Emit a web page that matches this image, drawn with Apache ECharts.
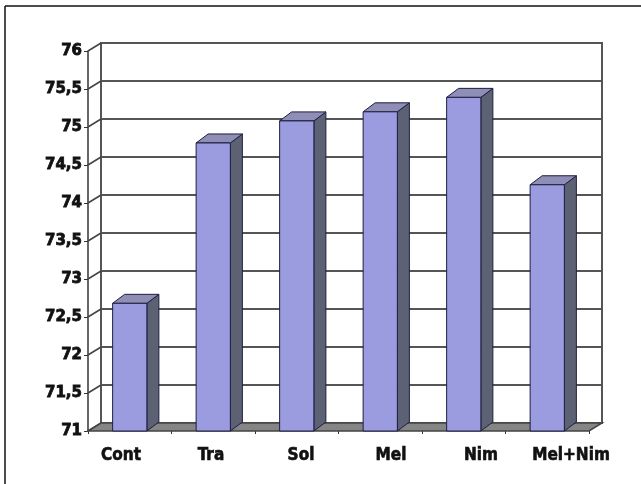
<!DOCTYPE html>
<html>
<head>
<meta charset="utf-8">
<script src="https://cdn.jsdelivr.net/npm/echarts@6/dist/echarts.min.js"></script>
<style>
html,body{margin:0;padding:0;background:#fff;}
#chart{width:641px;height:484px;}
</style>
</head>
<body>
<div id="chart"></div>
<script>
const categories = ['Cont', 'Tra', 'Sol', 'Mel', 'Nim', 'Mel+Nim'];
const values = [72.68, 74.79, 75.08, 75.2, 75.39, 74.24];
const yTicks = [71, 71.5, 72, 72.5, 73, 73.5, 74, 74.5, 75, 75.5, 76];
const yMin = 71, yMax = 76, yStep = 0.5;

const DX = 13, DY = -8;      // wall depth
const BDX = 12, BDY = -9;    // bar depth
const labelFont = "'Liberation Sans Narrow', 'DejaVu Sans Condensed', sans-serif";

const chart = echarts.init(document.getElementById('chart'), null, {renderer: 'canvas'});

const fmt = v => String(v).replace('.', ',');

const option = {
  backgroundColor: '#fff',
  animation: false,
  graphic: [
    {type: 'line', shape: {x1: 5, y1: 6, x2: 641, y2: 6}, style: {stroke: '#111', lineWidth: 1.5}, z: 100},
    {type: 'line', shape: {x1: 5, y1: 6, x2: 5, y2: 484}, style: {stroke: '#111', lineWidth: 1.5}, z: 100}
  ],
  grid: [
    {left: 88, top: 51, width: 501, height: 380},                                   // front plane
    {left: 88 + DX, top: 51 + DY, width: 501, height: 380, show: true,
     borderColor: '#555', borderWidth: 2, backgroundColor: '#fff'},                  // back wall
    {left: 76, top: 0, width: 540, height: 436}                                      // category labels
  ],
  xAxis: [
    {type: 'category', gridIndex: 0, data: categories,
     axisLine: {show: false},
     axisTick: {show: true, length: 3, lineStyle: {color: '#333'}},
     axisLabel: {show: false}},
    {type: 'category', gridIndex: 1, data: categories, show: false},
    {type: 'category', gridIndex: 2, data: categories,
     axisLine: {show: false}, axisTick: {show: false},
     axisLabel: {show: true, interval: 0, margin: 11, fontFamily: labelFont, fontWeight: 'bold',
                 fontSize: 17, color: '#111', textBorderColor: '#111', textBorderWidth: 0.6}}
  ],
  yAxis: [
    {type: 'value', gridIndex: 0, min: yMin, max: yMax, interval: yStep,
     axisLine: {show: true, lineStyle: {color: '#333', width: 1.5}},
     axisTick: {show: true, length: 4, lineStyle: {color: '#333'}},
     splitLine: {show: false},
     axisLabel: {margin: 6, fontFamily: "'DejaVu Sans', sans-serif", fontWeight: 'bold',
                 fontSize: 15, color: '#111', textBorderColor: '#111', textBorderWidth: 0.8,
                 formatter: fmt}},
    {type: 'value', gridIndex: 1, min: yMin, max: yMax, interval: yStep,
     axisLine: {show: false}, axisTick: {show: false}, axisLabel: {show: false},
     splitLine: {show: true, lineStyle: {color: '#555', width: 2}}},
    {type: 'value', gridIndex: 2, show: false}
  ],
  series: [
    {
      // side wall diagonals
      type: 'custom', xAxisIndex: 0, yAxisIndex: 0, z: 3,
      data: yTicks.map(v => [0, v]),
      renderItem: function (params, api) {
        const band = api.size([1, 0])[0];
        const p = api.coord([0, api.value(1)]);
        const x = p[0] - band / 2;
        return {type: 'line', shape: {x1: x, y1: p[1], x2: x + DX, y2: p[1] + DY},
                style: {stroke: '#444', lineWidth: 1.5}};
      }
    },
    {
      // floor
      type: 'custom', xAxisIndex: 0, yAxisIndex: 0, z: 4,
      data: [[0, yMin]],
      renderItem: function (params, api) {
        const band = api.size([1, 0])[0];
        const a = api.coord([0, yMin]);
        const b = api.coord([categories.length - 1, yMin]);
        const l = a[0] - band / 2, r = b[0] + band / 2, y = a[1];
        return {type: 'polygon',
                shape: {points: [[l, y], [r, y], [r + DX, y + DY], [l + DX, y + DY]]},
                style: {fill: '#858585', stroke: '#444', lineWidth: 1.5}};
      }
    },
    {
      // 3D bars
      type: 'custom', xAxisIndex: 0, yAxisIndex: 0, z: 5,
      data: values.map((v, i) => [i, v]),
      renderItem: function (params, api) {
        const top = api.coord([api.value(0), api.value(1)]);
        const base = api.coord([api.value(0), yMin]);
        const bw = api.size([1, 0])[0] * 0.41;
        const l = top[0] - bw / 2, r = top[0] + bw / 2, t = top[1], b = base[1];
        const stroke = '#1e1e40';
        return {type: 'group', children: [
          {type: 'polygon', shape: {points: [[r, t], [r + BDX, t + BDY], [r + BDX, b + BDY], [r, b]]},
           style: {fill: '#5c6274', stroke: stroke, lineWidth: 1}},
          {type: 'polygon', shape: {points: [[l, t], [r, t], [r + BDX, t + BDY], [l + BDX, t + BDY]]},
           style: {fill: '#8e8eb6', stroke: stroke, lineWidth: 1}},
          {type: 'rect', shape: {x: l, y: t, width: bw, height: b - t},
           style: {fill: '#9b9be0', stroke: stroke, lineWidth: 1}}
        ]};
      }
    }
  ]
};
chart.setOption(option);
</script>
</body>
</html>
